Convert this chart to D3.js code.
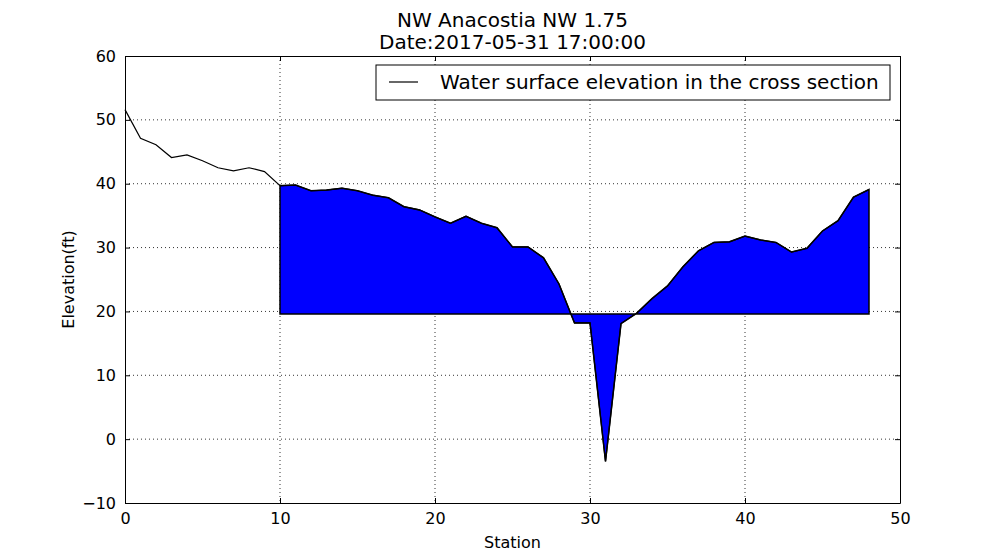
<!DOCTYPE html>
<html lang="en">
<head>
<meta charset="UTF-8">
<title>NW Anacostia cross section</title>
<script src="https://d3js.org/d3.v7.min.js"></script>
<style>
    body { margin: 0; background: #fff; }
    svg { font-family: "DejaVu Sans", sans-serif; }
</style>
</head>
<body>
<svg id="chart" width="1000" height="560"></svg>
<script>
    // ground profile along the cross section
    const stations = d3.range(0, 49);
    const elevation = [
        51.6, 47.1, 46.1, 44.1, 44.5, 43.6, 42.5, 42.0, 42.5, 41.9,
        39.7, 39.8, 38.9, 39.0, 39.3, 38.9, 38.2, 37.8, 36.4, 35.9,
        34.8, 33.8, 34.9, 33.8, 33.1, 30.1, 30.1, 28.4, 24.3, 18.2,
        18.2, -3.5, 18.1, 19.7, 22.0, 24.0, 27.0, 29.5, 30.8, 30.9,
        31.8, 31.2, 30.8, 29.3, 29.9, 32.6, 34.2, 37.9, 39.1
    ];
    const waterLevel = 19.6;
    const fillFrom = 10, fillTo = 48;
    const xTicks = [0, 10, 20, 30, 40, 50];
    const yTicks = [-10, 0, 10, 20, 30, 40, 50, 60];
    const titleLines = ["NW Anacostia NW 1.75", "Date:2017-05-31 17:00:00"];
    const legendLabel = "Water surface elevation in the cross section";

    const mL = 125, mR = 900, mT = 56, mB = 503;
    const svg = d3.select("#chart");

    const x = d3.scaleLinear().domain([0, 50]).range([mL, mR]);
    const y = d3.scaleLinear().domain([-10, 60]).range([mB, mT]);

    const pts = stations.map((s, i) => ({s: s, e: elevation[i]}));

    // grid
    const grid = svg.append("g");
    grid.selectAll(".gx").data(xTicks.slice(1, -1)).enter().append("line")
        .attr("x1", d => x(d)).attr("x2", d => x(d))
        .attr("y1", mT).attr("y2", mB)
        .attr("stroke", "#000").attr("stroke-width", 0.8)
        .attr("stroke-dasharray", "1,3");
    grid.selectAll(".gy").data(yTicks.slice(1, -1)).enter().append("line")
        .attr("x1", mL).attr("x2", mR)
        .attr("y1", d => y(d)).attr("y2", d => y(d))
        .attr("stroke", "#000").attr("stroke-width", 0.8)
        .attr("stroke-dasharray", "1,3");

    // filled section between profile and water level
    const area = d3.area()
        .x(d => x(d.s))
        .y0(y(waterLevel))
        .y1(d => y(d.e));
    svg.append("path")
        .datum(pts.filter(d => d.s >= fillFrom && d.s <= fillTo))
        .attr("d", area)
        .attr("fill", "#0000ff")
        .attr("stroke", "#000")
        .attr("stroke-width", 1.5)
        .attr("stroke-linejoin", "miter");

    // profile line
    svg.append("path")
        .datum(pts)
        .attr("d", d3.line().x(d => x(d.s)).y(d => y(d.e)))
        .attr("fill", "none")
        .attr("stroke", "#000")
        .attr("stroke-width", 1.2);

    // axes frame (ticks inward, on all four sides)
    const axB = svg.append("g").attr("transform", `translate(0,${mB})`)
        .call(d3.axisBottom(x).tickValues(xTicks).tickSizeInner(-5).tickSizeOuter(0).tickPadding(10));
    const axT = svg.append("g").attr("transform", `translate(0,${mT})`)
        .call(d3.axisTop(x).tickValues(xTicks).tickSizeInner(-5).tickSizeOuter(0).tickFormat(""));
    const axL = svg.append("g").attr("transform", `translate(${mL},0)`)
        .call(d3.axisLeft(y).tickValues(yTicks).tickSizeInner(-5).tickSizeOuter(0).tickPadding(9)
            .tickFormat(d => d < 0 ? "\u2212" + Math.abs(d) : d));
    const axR = svg.append("g").attr("transform", `translate(${mR},0)`)
        .call(d3.axisRight(y).tickValues(yTicks).tickSizeInner(-5).tickSizeOuter(0).tickFormat(""));
    [axB, axT, axL, axR].forEach(g => {
        g.select(".domain").attr("stroke", "#000").attr("stroke-width", 1);
        g.selectAll(".tick line").attr("stroke", "#000");
        g.selectAll("text").attr("font-size", 16).attr("fill", "#000")
            .attr("font-family", "DejaVu Sans, sans-serif");
    });

    // titles
    svg.selectAll(".title").data(titleLines).enter().append("text")
        .attr("x", (mL + mR) / 2).attr("y", (d, i) => 27 + i * 22)
        .attr("text-anchor", "middle").attr("font-size", 20)
        .text(d => d);

    svg.append("text")
        .attr("x", (mL + mR) / 2).attr("y", 548)
        .attr("text-anchor", "middle").attr("font-size", 16)
        .text("Station");
    svg.append("text")
        .attr("transform", `translate(74,${(mT + mB) / 2}) rotate(-90)`)
        .attr("text-anchor", "middle").attr("font-size", 16)
        .text("Elevation(ft)");

    // legend
    const lg = svg.append("g");
    lg.append("rect")
        .attr("x", 376).attr("y", 65).attr("width", 514).attr("height", 35)
        .attr("fill", "#fff").attr("stroke", "#000").attr("stroke-width", 1);
    lg.append("line")
        .attr("x1", 389).attr("x2", 418).attr("y1", 82).attr("y2", 82)
        .attr("stroke", "#000").attr("stroke-width", 1.2);
    lg.append("text")
        .attr("x", 440).attr("y", 89).attr("font-size", 20)
        .text(legendLabel);
</script>
</body>
</html>
